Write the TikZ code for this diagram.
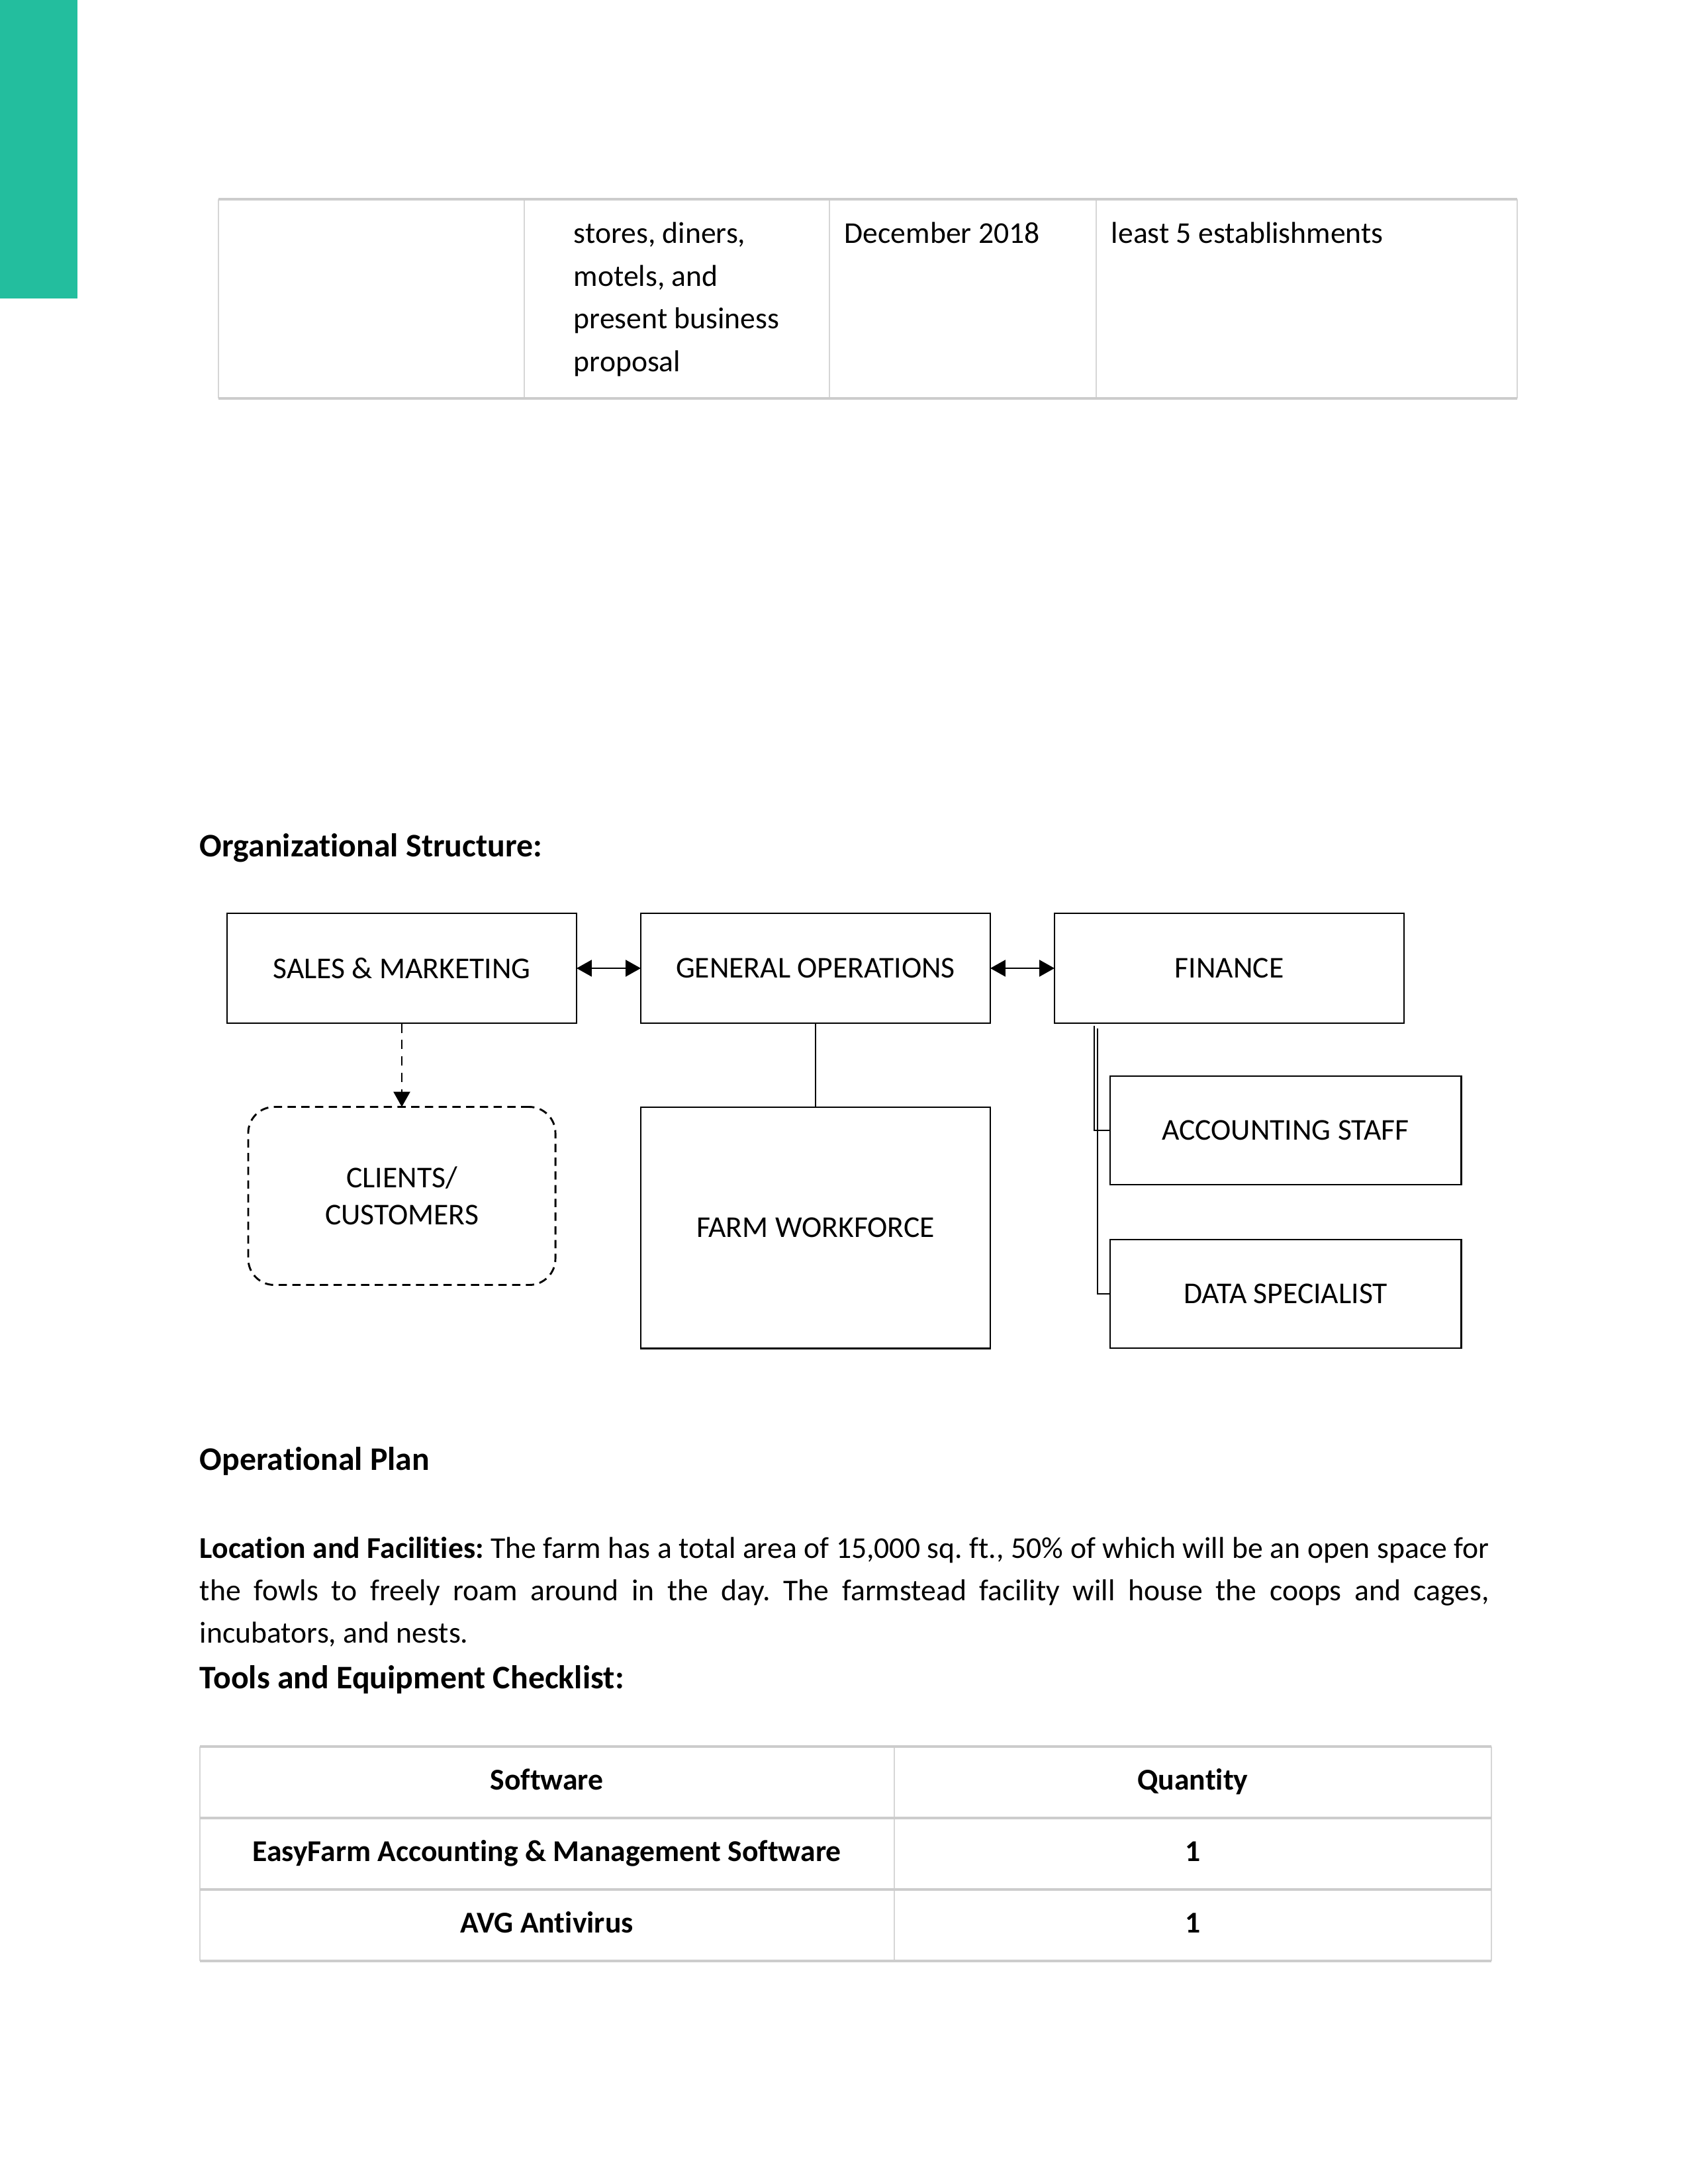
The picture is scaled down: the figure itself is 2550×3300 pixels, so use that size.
\documentclass[tikz,border=0pt]{standalone}
\usepackage{fontspec}
\setmainfont{Carlito}[RawFeature={-liga;-clig;-calt;-dlig}]
\usetikzlibrary{arrows.meta}
\definecolor{teal}{RGB}{35,190,158}
\definecolor{gridgray}{RGB}{204,204,204}
\definecolor{gridlight}{RGB}{214,214,214}
\tikzset{
  orgbox/.style={draw=black, line width=0.7pt, inner sep=0pt, outer sep=0pt, align=center, font=\fontsize{11}{13.4}\selectfont},
  conn/.style={line width=0.6pt, black},
  tip/.style={-{Triangle[length=5.5pt,width=6pt]}},
  dtip/.style={{Triangle[length=5.5pt,width=6pt]}-{Triangle[length=5.5pt,width=6pt]}},
  heading/.style={anchor=base west, inner sep=0pt, font=\fontsize{12}{14.6}\selectfont\bfseries},
  body/.style={anchor=base west, inner sep=0pt, font=\fontsize{11}{13.4}\selectfont},
  cell/.style={anchor=base, inner sep=0pt, font=\fontsize{11}{13.4}\selectfont\bfseries},
  hline/.style={draw=gridgray, line width=1pt},
  vline/.style={draw=gridlight, line width=0.5pt}
}
\begin{document}
\frenchspacing
\begin{tikzpicture}[x=0.2409pt, y=-0.2409pt]
\useasboundingbox (0,0) rectangle (2550,3300);
\fill[white] (0,0) rectangle (2550,3300);
% green side bar
\fill[teal] (0,0) rectangle (117,451);

% top table
\draw[vline] (330,301) -- (330,602);
\draw[vline] (792,301) -- (792,602);
\draw[vline] (1253,301) -- (1253,602);
\draw[vline] (1656,301) -- (1656,602);
\draw[vline] (2292,301) -- (2292,602);
\draw[hline] (330,301) -- (2292,301);
\draw[hline] (330,602) -- (2292,602);
\node[body] (t1) at (866,367) {stores, diners,};
\node[body] (t2) at (866,432) {motels, and};
\node[body] (t3) at (866,496) {present business};
\node[body] (t4) at (866,561) {proposal};
\node[body] (t5) at (1275,367) {December 2018};
\node[body] (t6) at (1678,367) {least 5 establishments};

% Organizational structure
\node[heading] (h1) at (301,1294) {Organizational Structure:};

\node[orgbox, minimum width=127.2pt, minimum height=40pt] (sales) at (607,1463) {SALES \& MARKETING};
\node[orgbox, minimum width=127.2pt, minimum height=40pt] (general) at (1232,1463) {GENERAL OPERATIONS};
\node[orgbox, minimum width=127.2pt, minimum height=40pt] (finance) at (1857,1463) {FINANCE};
\node[orgbox, dash pattern=on 3pt off 2pt, rounded corners=9.5pt, minimum width=111.8pt, minimum height=64.8pt] (clients) at (607,1807) {CLIENTS/\\CUSTOMERS};
\node[orgbox, minimum width=127.2pt, minimum height=87.7pt] (farm) at (1232,1855) {FARM WORKFORCE};
\node[orgbox, minimum width=127.7pt, minimum height=39.5pt] (acc) at (1942,1708) {ACCOUNTING STAFF};
\node[orgbox, minimum width=127.7pt, minimum height=39.5pt] (data) at (1942,1955) {DATA SPECIALIST};

\draw[conn, dtip] (sales.east) -- (general.west);
\draw[conn, dtip] (general.east) -- (finance.west);
\draw[conn, tip, dash pattern=on 3.5pt off 2.5pt] (sales.south) -- (clients.north);
\draw[conn] (general.south) -- (farm.north);
\coordinate (fa) at (1653,1550);
\coordinate (fd) at (1658,1554);
\draw[conn] (fa) |- (acc.west);
\draw[conn] (fd) |- (data.west);

% Operational plan
\node[heading] (h2) at (301,2221) {Operational Plan};
\node[anchor=base west, inner sep=0pt, text width=469.3pt, align=justify, font=\fontsize{11}{15.5}\selectfont] (para) at (301,2354)
 {\textbf{Location and Facilities:} The farm has a total area of 15,000 sq. ft., 50\% of which will be an open space for\linebreak the fowls to freely roam around in the day. The farmstead facility will house the coops and cages,\linebreak incubators, and nests.};
\node[heading] (h3) at (301,2551) {Tools and Equipment Checklist:};

% bottom table
\draw[vline] (302,2639) -- (302,2963);
\draw[vline] (1351,2639) -- (1351,2963);
\draw[vline] (2253,2639) -- (2253,2963);
\draw[hline] (302,2639) -- (2253,2639);
\draw[hline] (302,2747) -- (2253,2747);
\draw[hline] (302,2855) -- (2253,2855);
\draw[hline] (302,2963) -- (2253,2963);
\node[cell] (c11) at (826,2704) {Software};
\node[cell] (c12) at (1802,2704) {Quantity};
\node[cell] (c21) at (826,2812) {EasyFarm Accounting \& Management Software};
\node[cell] (c22) at (1802,2812) {1};
\node[cell] (c31) at (826,2920) {AVG Antivirus};
\node[cell] (c32) at (1802,2920) {1};
\end{tikzpicture}
\end{document}
